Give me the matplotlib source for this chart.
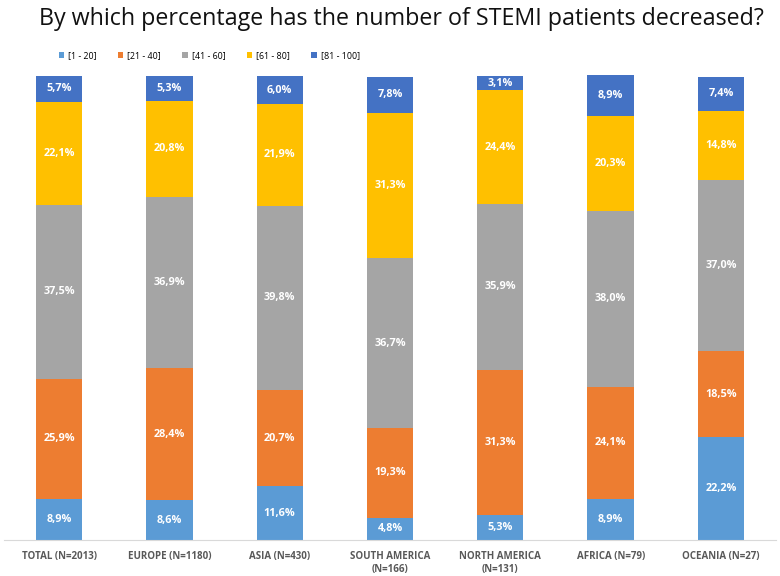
import numpy as np
import matplotlib.pyplot as plt

regions = ["TOTAL (N=2013)", "EUROPE (N=1180)", "ASIA (N=430)", "SOUTH AMERICA\n(N=166)",
           "NORTH AMERICA\n(N=131)", "AFRICA (N=79)", "OCEANIA (N=27)"]
bands = ["[1 - 20]", "[21 - 40]", "[41 - 60]", "[61 - 80]", "[81 - 100]"]
colors = ["#5B9BD5", "#ED7D31", "#A5A5A5", "#FFC000", "#4472C4"]

b1_20 = [8.9, 8.6, 11.6, 4.8, 5.3, 8.9, 22.2]
b21_40 = [25.9, 28.4, 20.7, 19.3, 31.3, 24.1, 18.5]
b41_60 = [37.5, 36.9, 39.8, 36.7, 35.9, 38.0, 37.0]
b61_80 = [22.1, 20.8, 21.9, 31.3, 24.4, 20.3, 14.8]
b81_100 = [5.7, 5.3, 6.0, 7.8, 3.1, 8.9, 7.4]
series = [b1_20, b21_40, b41_60, b61_80, b81_100]

fig = plt.figure(figsize=(7.8, 5.76), dpi=100)
ax = fig.add_axes([0.005, 0.0625, 0.99, 0.807])

x = np.arange(len(regions))
bottom = np.zeros(len(regions))
for vals, lab, col in zip(series, bands, colors):
    vals = np.array(vals)
    ax.bar(x, vals, 0.42, bottom=bottom, color=col, label=lab, linewidth=0)
    for xi, b, v in zip(x, bottom, vals):
        ax.text(xi, b + v / 2, f"{v:.1f}%".replace(".", ","), ha="center", va="center",
                color="white", fontsize=7.8, fontweight="bold", family="Open Sans")
    bottom += vals

ax.set_xlim(-0.5, len(regions) - 0.5)
ax.set_ylim(0, 100.2)
ax.set_yticks([])
ax.set_xticks(x)
ax.set_xticklabels(regions, fontsize=7, fontweight="bold", color="#595959", family="Open Sans")
ax.tick_params(axis="x", length=0, pad=8)
for s in ["top", "right", "left"]:
    ax.spines[s].set_visible(False)
ax.spines["bottom"].set_color("#D9D9D9")

title = fig.text(0.515, 0.956, "By which percentage has the number of STEMI patients decreased?",
                 ha="center", va="baseline", fontsize=19, family="Open Sans", color="#111111")
# fit title width to the reference (~727 px)
fig.canvas.draw()
w = title.get_window_extent().width
title.set_fontsize(19 * 727 / w)

leg = fig.legend(loc="center left", bbox_to_anchor=(0.065, 0.903), ncol=5, frameon=False,
                 handlelength=0.6, handleheight=0.6, handletextpad=0.45,
                 columnspacing=2.4, prop={"family": "Open Sans", "size": 6.4})

fig.savefig("out.png", dpi=100)
